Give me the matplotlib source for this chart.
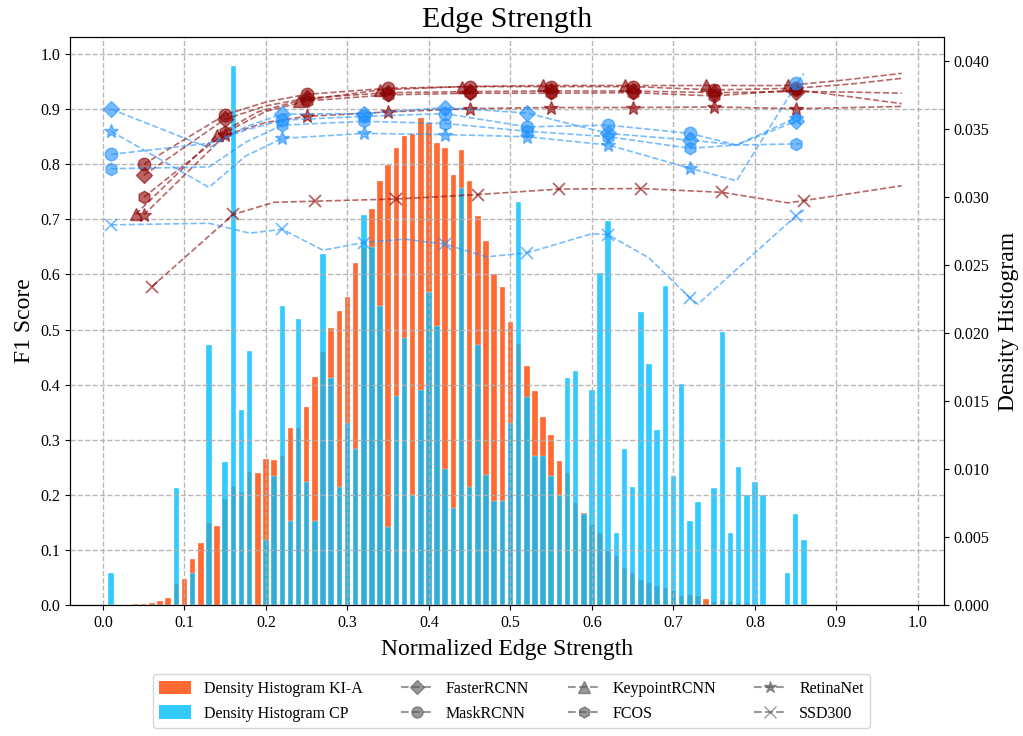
import numpy as np
import matplotlib.pyplot as plt
from matplotlib.lines import Line2D
from matplotlib.patches import Patch

plt.rcParams['font.family'] = 'serif'
plt.rcParams['font.serif'] = ['Liberation Serif', 'DejaVu Serif']

# ---- density histograms (bin centre, density) ----
kia_bins = [0.03, 0.04, 0.05, 0.06, 0.07, 0.08, 0.09, 0.10, 0.11, 0.12, 0.13, 0.14, 0.15, 0.16,
            0.17, 0.18, 0.19, 0.20, 0.21, 0.22, 0.23, 0.24, 0.25, 0.26, 0.27, 0.28, 0.29, 0.30,
            0.31, 0.32, 0.33, 0.34, 0.35, 0.36, 0.37, 0.38, 0.39, 0.40, 0.41, 0.42, 0.43, 0.44,
            0.45, 0.46, 0.47, 0.48, 0.49, 0.50, 0.51, 0.52, 0.53, 0.54, 0.55, 0.56, 0.57, 0.58,
            0.59, 0.60, 0.61, 0.62, 0.63, 0.64, 0.65, 0.66, 0.67, 0.68, 0.69, 0.70, 0.71, 0.72,
            0.73, 0.74, 0.75, 0.76, 0.77, 0.78, 0.79, 0.80]
kia_dens = [0.00002, 0.00008, 0.00010, 0.00016, 0.00028, 0.00055, 0.00154, 0.00190, 0.00340,
            0.00458, 0.00604, 0.00579, 0.00778, 0.00879, 0.00830, 0.00980, 0.00972, 0.01074,
            0.01070, 0.01098, 0.01300, 0.01304, 0.01458, 0.01681, 0.01864, 0.02042, 0.02167,
            0.02264, 0.02520, 0.02637, 0.02917, 0.03120, 0.03237, 0.03366, 0.03451, 0.03464,
            0.03581, 0.03545, 0.03399, 0.03362, 0.03164, 0.03346, 0.03120, 0.02864, 0.02682,
            0.02435, 0.02337, 0.02082, 0.01924, 0.01758, 0.01572, 0.01381, 0.01248, 0.01061,
            0.00968, 0.00750, 0.00677, 0.00591, 0.00527, 0.00401, 0.00360, 0.00271, 0.00239,
            0.00186, 0.00162, 0.00142, 0.00128, 0.00105, 0.00065, 0.00077, 0.00063, 0.00042,
            0.00022, 0.00036, 0.00022, 0.00015, 0.00015, 0.00002]

cp_bins = [0.01, 0.09, 0.11, 0.13, 0.15, 0.16, 0.17, 0.18, 0.20, 0.21, 0.22, 0.23, 0.24, 0.25,
           0.26, 0.27, 0.28, 0.29, 0.30, 0.31, 0.32, 0.33, 0.34, 0.35, 0.36, 0.37, 0.38, 0.39,
           0.40, 0.41, 0.42, 0.43, 0.44, 0.45, 0.46, 0.47, 0.48, 0.49, 0.50, 0.51, 0.52, 0.53,
           0.54, 0.55, 0.56, 0.57, 0.58, 0.59, 0.60, 0.61, 0.62, 0.63, 0.64, 0.65, 0.66, 0.67,
           0.68, 0.69, 0.70, 0.71, 0.72, 0.73, 0.75, 0.76, 0.77, 0.78, 0.79, 0.80, 0.81, 0.84,
           0.85, 0.86]
cp_dens = [0.00235, 0.00863, 0.00235, 0.01912, 0.01049, 0.03970, 0.01434, 0.01867, 0.00478,
           0.00952, 0.02200, 0.00620, 0.02102, 0.00907, 0.00620, 0.02584, 0.01673, 0.00865,
           0.01341, 0.01150, 0.02871, 0.02637, 0.02203, 0.00573, 0.01535, 0.01964, 0.00812,
           0.01580, 0.02300, 0.02053, 0.01004, 0.00717, 0.03066, 0.00865, 0.01916, 0.00956,
           0.00765, 0.00765, 0.01341, 0.02969, 0.01531, 0.01098, 0.01098, 0.00952, 0.00812,
           0.01673, 0.01721, 0.00668, 0.01580, 0.02442, 0.02823, 0.00527, 0.01150, 0.00865,
           0.02155, 0.01770, 0.01288, 0.02345, 0.00952, 0.01624, 0.00616, 0.00761, 0.00863,
           0.02009, 0.00527, 0.01013, 0.00810, 0.00903, 0.00810, 0.00235, 0.00668, 0.00478]

# ---- F1 scores, KI-A models (markers) ----
ki_x = [0.05, 0.15, 0.25, 0.35, 0.45, 0.55, 0.65, 0.75, 0.85]
ki_kp_x = [0.04, 0.14, 0.24, 0.34, 0.44, 0.54, 0.64, 0.74, 0.84]
ki_ssd_x = [0.06, 0.16, 0.26, 0.36, 0.46, 0.56, 0.66, 0.76, 0.86]
ki_faster = [0.780, 0.882, 0.920, 0.930, 0.932, 0.933, 0.933, 0.930, 0.932]
ki_mask = [0.800, 0.890, 0.927, 0.938, 0.941, 0.941, 0.941, 0.935, 0.938]
ki_keypoint = [0.709, 0.853, 0.915, 0.935, 0.941, 0.943, 0.943, 0.943, 0.943]
ki_fcos = [0.740, 0.858, 0.915, 0.926, 0.929, 0.929, 0.930, 0.924, 0.935]
ki_retina = [0.708, 0.853, 0.887, 0.895, 0.901, 0.903, 0.903, 0.904, 0.901]
ki_ssd = [0.578, 0.709, 0.733, 0.737, 0.745, 0.755, 0.756, 0.749, 0.734]

# KI-A fitted curves
ki_curve_x = [0.05, 0.15, 0.20, 0.25, 0.35, 0.45, 0.55, 0.65, 0.75, 0.85, 0.92, 0.98]
ki_kp_curve_x = [0.04, 0.14, 0.19, 0.24, 0.34, 0.44, 0.54, 0.64, 0.74, 0.84, 0.91, 0.98]
ki_faster_curve = [0.780, 0.882, 0.906, 0.920, 0.930, 0.932, 0.933, 0.933, 0.930, 0.932, 0.931, 0.929]
ki_mask_curve = [0.800, 0.890, 0.913, 0.927, 0.938, 0.941, 0.941, 0.941, 0.935, 0.938, 0.946, 0.956]
ki_keypoint_curve = [0.709, 0.853, 0.895, 0.915, 0.935, 0.941, 0.943, 0.943, 0.943, 0.943, 0.953, 0.965]
ki_fcos_curve = [0.740, 0.858, 0.896, 0.915, 0.926, 0.929, 0.929, 0.930, 0.924, 0.935, 0.922, 0.910]
ki_retina_curve = [0.708, 0.853, 0.876, 0.887, 0.895, 0.901, 0.903, 0.903, 0.904, 0.901, 0.903, 0.905]
ki_ssd_curve_x = [0.06, 0.16, 0.21, 0.26, 0.36, 0.46, 0.56, 0.66, 0.76, 0.84, 0.86, 0.98]
ki_ssd_curve = [0.578, 0.709, 0.731, 0.733, 0.737, 0.745, 0.755, 0.756, 0.749, 0.730, 0.734, 0.761]

# ---- F1 scores, CP models (markers) ----
cp_x = [0.01, 0.22, 0.32, 0.42, 0.52, 0.62, 0.72, 0.85]
cp_faster = [0.900, 0.891, 0.892, 0.903, 0.893, 0.856, 0.844, 0.878]
cp_mask = [0.818, 0.880, 0.887, 0.892, 0.868, 0.871, 0.856, 0.948]
cp_fcos = [0.792, 0.871, 0.878, 0.874, 0.860, 0.850, 0.829, 0.837]
cp_retina = [0.860, 0.847, 0.856, 0.854, 0.850, 0.835, 0.793, 0.884]
cp_ssd = [0.690, 0.682, 0.658, 0.655, 0.639, 0.672, 0.558, 0.706]

cp_curve_x = [0.01, 0.13, 0.175, 0.22, 0.32, 0.42, 0.52, 0.62, 0.72, 0.7775, 0.85, 0.86]
cp_faster_curve = [0.900, 0.830, 0.868, 0.891, 0.892, 0.903, 0.893, 0.856, 0.844, 0.835, 0.878, 0.885]
cp_mask_curve = [0.818, 0.838, 0.862, 0.880, 0.887, 0.892, 0.868, 0.871, 0.856, 0.835, 0.884, 0.890]
cp_fcos_curve = [0.792, 0.795, 0.840, 0.871, 0.878, 0.874, 0.860, 0.850, 0.829, 0.835, 0.837, 0.837]
cp_retina_curve = [0.860, 0.758, 0.815, 0.847, 0.856, 0.854, 0.850, 0.835, 0.793, 0.770, 0.943, 0.965]
cp_ssd_curve_x = [0.01, 0.13, 0.18, 0.22, 0.27, 0.32, 0.37, 0.42, 0.47, 0.52, 0.60, 0.62, 0.67,
                  0.72, 0.73, 0.85, 0.86]
cp_ssd_curve = [0.690, 0.693, 0.675, 0.682, 0.644, 0.658, 0.664, 0.655, 0.632, 0.639, 0.674,
                0.672, 0.630, 0.558, 0.546, 0.706, 0.717]

red = 'darkred'
blue = 'dodgerblue'

fig = plt.figure(figsize=(10.23, 7.36), dpi=100)
ax = fig.add_axes([0.0684, 0.178, 0.8544, 0.7717])
ax2 = ax.twinx()

ax2.bar(kia_bins, kia_dens, width=0.0068, color='orangered', alpha=0.8,
        edgecolor='white', linewidth=0.3)
ax2.bar(cp_bins, cp_dens, width=0.0068, color='deepskyblue', alpha=0.8,
        edgecolor='white', linewidth=0.3)
ax2.set_ylim(0, 0.0418)
ax2.set_yticks(np.arange(0, 0.0401, 0.005))
ax2.set_yticklabels(['%.3f' % v for v in np.arange(0, 0.0401, 0.005)])
ax2.set_ylabel('Density Histogram', fontsize=17, labelpad=6)
ax2.tick_params(labelsize=11.5)

ax.set_zorder(ax2.get_zorder() + 1)
ax.patch.set_visible(False)

lw = 1.2
al = 0.6
series = [
    (ki_curve_x, ki_faster_curve, ki_x, ki_faster, red, 'D', 8),
    (ki_curve_x, ki_mask_curve, ki_x, ki_mask, red, 'o', 9),
    (ki_kp_curve_x, ki_keypoint_curve, ki_kp_x, ki_keypoint, red, '^', 9),
    (ki_curve_x, ki_fcos_curve, ki_x, ki_fcos, red, 'h', 9),
    (ki_curve_x, ki_retina_curve, ki_x, ki_retina, red, '*', 10),
    (ki_ssd_curve_x, ki_ssd_curve, ki_ssd_x, ki_ssd, red, 'x', 9),
    (cp_curve_x, cp_faster_curve, cp_x, cp_faster, blue, 'D', 8),
    (cp_curve_x, cp_mask_curve, cp_x, cp_mask, blue, 'o', 9),
    (cp_curve_x, cp_fcos_curve, cp_x, cp_fcos, blue, 'h', 9),
    (cp_curve_x, cp_retina_curve, cp_x, cp_retina, blue, '*', 10),
    (cp_ssd_curve_x, cp_ssd_curve, cp_x, cp_ssd, blue, 'x', 9),
]
for cx, cy, mx, my, c, m, ms in series:
    ax.plot(cx, cy, '--', color=c, alpha=al, lw=lw)
    ax.plot(mx, my, linestyle='none', marker=m, color=c, alpha=al, markersize=ms,
            markeredgewidth=1.3 if m == 'x' else 1.0)

ax.set_xlim(-0.0405, 1.032)
ax.set_ylim(0, 1.031)
ax.set_xticks(np.arange(0, 1.01, 0.1))
ax.set_yticks(np.arange(0, 1.01, 0.1))
ax.xaxis.set_major_formatter(plt.FormatStrFormatter('%.1f'))
ax.yaxis.set_major_formatter(plt.FormatStrFormatter('%.1f'))
ax.tick_params(labelsize=11.5)
ax.grid(True, linestyle='--', color='#b0b0b0', linewidth=1.0, alpha=0.9)
ax.set_xlabel('Normalized Edge Strength', fontsize=17, labelpad=6)
ax.set_ylabel('F1 Score', fontsize=17)
ax.set_title('Edge Strength', fontsize=21.5, pad=7)

gray = '#555555'
handles = [
    Patch(facecolor='orangered', alpha=0.8, label='Density Histogram KI-A'),
    Patch(facecolor='deepskyblue', alpha=0.8, label='Density Histogram CP'),
    Line2D([], [], ls='--', color=gray, alpha=al, marker='D', markersize=7, label='FasterRCNN'),
    Line2D([], [], ls='--', color=gray, alpha=al, marker='o', markersize=8, label='MaskRCNN'),
    Line2D([], [], ls='--', color=gray, alpha=al, marker='^', markersize=8, label='KeypointRCNN'),
    Line2D([], [], ls='--', color=gray, alpha=al, marker='h', markersize=8, label='FCOS'),
    Line2D([], [], ls='--', color=gray, alpha=al, marker='*', markersize=9, label='RetinaNet'),
    Line2D([], [], ls='--', color=gray, alpha=al, marker='x', markersize=9, label='SSD300'),
]
fig.legend(handles=handles, loc='lower center', bbox_to_anchor=(0.5, 0.0), ncol=4,
           fontsize=11.5, frameon=True, columnspacing=2.4, labelspacing=0.55,
           handleheight=0.9)

fig.savefig('out.png', dpi=100)
